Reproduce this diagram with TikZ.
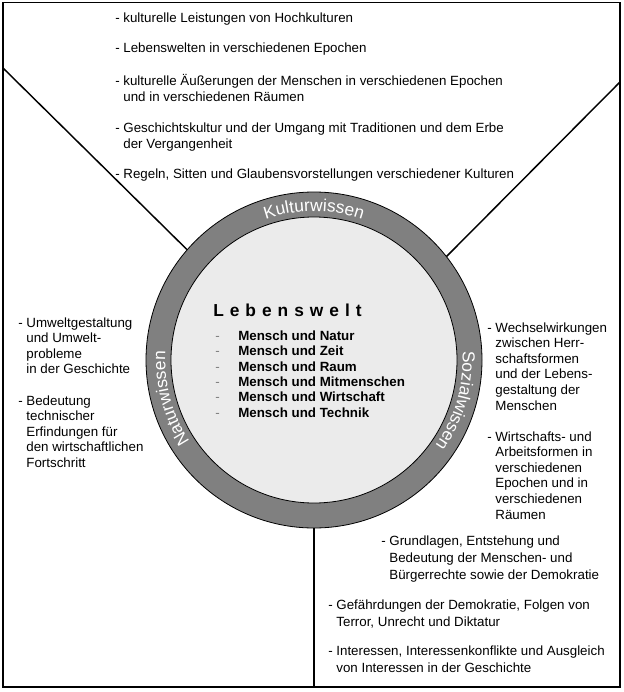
\documentclass[tikz,border=0pt]{standalone}
\usepackage{fontspec}
\setmainfont{Liberation Sans}
\usetikzlibrary{decorations.text}
\definecolor{ringgray}{gray}{0.5}
\definecolor{discgray}{HTML}{EBEBEB}
\newcommand\hi[1]{\begin{tabular}[t]{@{}l@{}}#1\end{tabular}}
\newcommand\lsp{\kern4.5pt}
\begin{document}
\begin{tikzpicture}[x=0.75pt,y=-0.75pt,
  txt/.style={anchor=base west, inner sep=0pt, font=\fontsize{10}{12.75}\selectfont},
  txs/.style={anchor=base west, inner sep=0pt, font=\fontsize{10}{11.7}\selectfont},
  txc/.style={anchor=base west, inner sep=0pt, font=\fontsize{10}{11.5}\selectfont},
  frame/.style={line width=1.1pt},
  conn/.style={line width=1.1pt},
  disc/.style={circle, draw, line width=0.6pt, inner sep=0pt},
  ringtext/.style={decorate, decoration={text along path, text align=center,
     text={|\fontsize{13}{15}\selectfont\color{white}|#1}}}]
\useasboundingbox (0,0) rectangle (624,692);
\coordinate (fTL) at (3,2.5);
\coordinate (fBR) at (620,687);
\draw[frame] (fTL) rectangle (fBR);
\node[disc, fill=ringgray, minimum size=252pt] (outer) at (314,360) {};
\node[disc, fill=discgray, minimum size=214.5pt] (inner) at (314,360) {};
\coordinate (lA) at (3,68);
\coordinate (rA) at (620,82);
\draw[conn] (lA) -- (outer.139.3);
\draw[conn] (rA) -- (outer.38.2);
\draw[conn] (outer.south) -- (outer.south |- fBR);
\begin{scope}[shift={(outer.center)}, x=1pt, y=1pt]
  \path[ringtext=Kulturwissen] (150:111.5) arc[start angle=150, end angle=30, radius=111.5];
  \path[ringtext=Naturwissen] (255:111.5) arc[start angle=255, end angle=135, radius=111.5];
  \path[ringtext=Sozialwissen] (44:111.5) arc[start angle=44, end angle=-76, radius=111.5];
\end{scope}
% top
\node[txt] (t1) at (115,23) {- kulturelle Leistungen von Hochkulturen};
\node[txt] (t2) at (115,53) {- Lebenswelten in verschiedenen Epochen};
\node[txt] (t3) at (115,85) {- \hi{kulturelle Äußerungen der Menschen in verschiedenen Epochen\\und in verschiedenen Räumen}};
\node[txt] (t4) at (115,132) {- \hi{Geschichtskultur und der Umgang mit Traditionen und dem Erbe\\der Vergangenheit}};
\node[txt] (t5) at (115,178) {- Regeln, Sitten und Glaubensvorstellungen verschiedener Kulturen};
% left
\node[txs] (l1) at (18,327) {- \hi{Umweltgestaltung\\und Umwelt-\\probleme\\in der Geschichte}};
\node[txs] (l2) at (18,405) {- \hi{Bedeutung\\technischer\\Erfindungen für\\den wirtschaftlichen\\Fortschritt}};
% right
\node[txs] (r1) at (487,332) {- \hi{Wechselwirkungen\\zwischen Herr-\\schaftsformen\\und der Lebens-\\gestaltung der\\Menschen}};
\node[txs] (r2) at (487,441) {- \hi{Wirtschafts- und\\Arbeitsformen in\\verschiedenen\\Epochen und in\\verschiedenen\\Räumen}};
% bottom
\node[txt] (b1) at (381,545) {- \hi{Grundlagen, Entstehung und\\Bedeutung der Menschen- und\\Bürgerrechte sowie der Demokratie}};
\node[txt] (b2) at (328,609) {- \hi{Gefährdungen der Demokratie, Folgen von\\Terror, Unrecht und Diktatur}};
\node[txt] (b3) at (328,655) {- \hi{Interessen, Interessenkonflikte und Ausgleich\\von Interessen in der Geschichte}};
% centre
\node[anchor=base west, inner sep=0pt, font=\fontsize{13}{15}\selectfont\bfseries] (lw) at (213,316)
  {L\lsp e\lsp b\lsp e\lsp n\lsp s\lsp w\lsp e\lsp l\lsp t};
\node[txc, text=gray] (dashes) at (215,340.5) {\hi{-\\-\\-\\-\\-\\-}};
\node[txc, font=\fontsize{10}{11.5}\selectfont\bfseries] (list) at (238,340.5)
  {\hi{Mensch und Natur\\Mensch und Zeit\\Mensch und Raum\\Mensch und Mitmenschen\\Mensch und Wirtschaft\\Mensch und Technik}};
\end{tikzpicture}
\end{document}
